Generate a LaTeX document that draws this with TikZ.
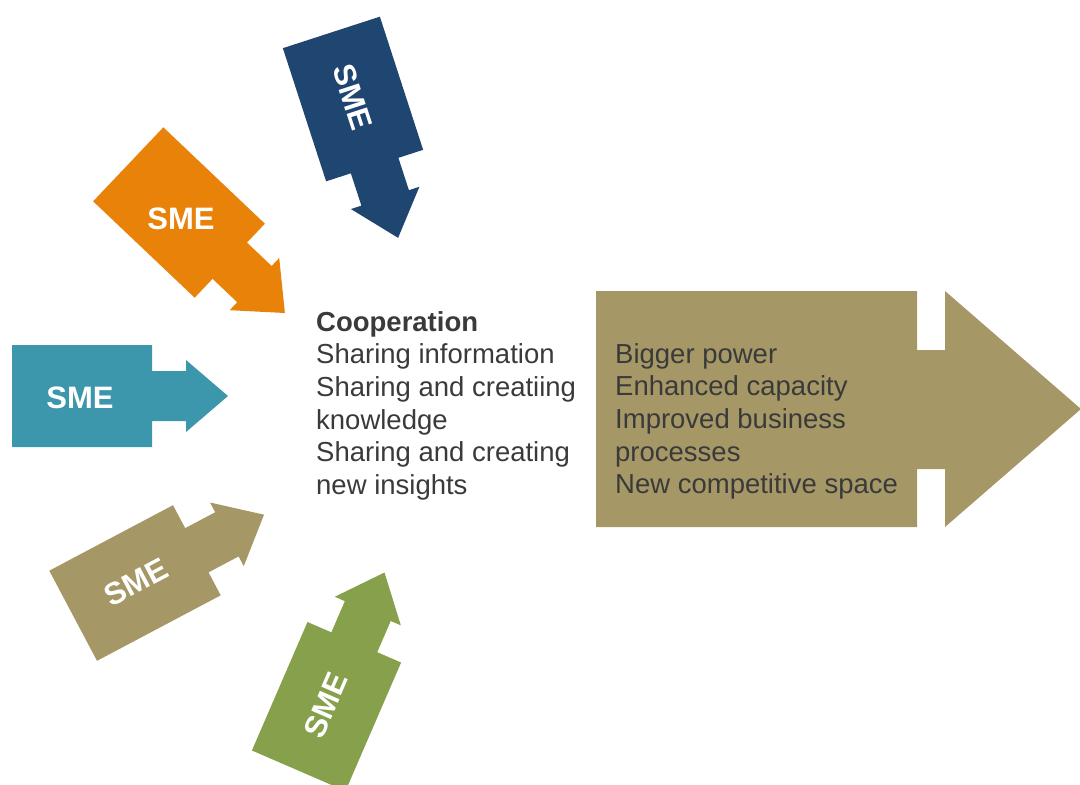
\documentclass[tikz,border=0pt]{standalone}
\usepackage{fontspec}
\setmainfont{Liberation Sans}
\usetikzlibrary{positioning}

\definecolor{smenavy}{RGB}{30,70,112}
\definecolor{smeorange}{RGB}{232,130,8}
\definecolor{smeteal}{RGB}{60,150,172}
\definecolor{smekhaki}{RGB}{165,152,102}
\definecolor{smegreen}{RGB}{134,160,75}
\definecolor{bodytext}{RGB}{58,58,58}

\begin{document}
\begin{tikzpicture}[x=1pt, y=1pt]
			\tikzstyle{sme label}=[text=white, inner sep=0pt, font=\fontsize{31}{31}\selectfont\bfseries]
			\tikzstyle{list text}=[text=bodytext, inner sep=0pt, align=left, anchor=north west, font=\fontsize{27.5}{32.7}\selectfont]
			% box with a short neck and a head, pointing along +x
			\tikzset{sme arrow/.pic={
				\fill (-70,-51) -- (70,-51) -- (70,-25) -- (104,-25) -- (104,-36) -- (146,0)
				      -- (104,36) -- (104,25) -- (70,25) -- (70,51) -- (-70,51) -- cycle;
			}}
			
			\useasboundingbox (0,0) rectangle (1080,-785);
			\clip (0,0) rectangle (1080,-785);
			
			% Five SME arrows pointing at the middle
			\pic[fill=smenavy, rotate=-72]     (navy)   at (353,-99)    {sme arrow};
			\pic[fill=smeorange, rotate=-43.5] (orange) at (179,-212.5) {sme arrow};
			\pic[fill=smeteal]                 (teal)   at (82,-396)    {sme arrow};
			\pic[fill=smekhaki, rotate=27.9]   (khaki)  at (135,-583)   {sme arrow};
			\pic[fill=smegreen, rotate=66.6]   (green)  at (326.5,-706.5) {sme arrow};
			
			\node[sme label, rotate=-72]  (sme1) at (353,-97)   {SME};
			\node[sme label]              (sme2) at (181,-219)  {SME};
			\node[sme label]              (sme3) at (80,-398)   {SME};
			\node[sme label, rotate=27.9] (sme4) at (136,-582)  {SME};
			\node[sme label, rotate=66.6] (sme5) at (326,-705)  {SME};
			
			% Big result arrow
			\fill[smekhaki] (596,-291) -- (917,-291) -- (917,-350) -- (945,-350) -- (945,-291)
			      -- (1081,-409) -- (945,-527) -- (945,-469) -- (917,-469) -- (917,-527)
			      -- (596,-527) -- cycle;
			
			% Texts
			\node[list text] (coop) at (316,-311)
			      {\textbf{Cooperation}\\Sharing information\\Sharing and creatiing\\knowledge\\Sharing and creating\\new insights};
			\node[list text] (gain) at (615,-343)
			      {Bigger power\\Enhanced capacity\\Improved business\\processes\\New competitive space};
		\end{tikzpicture}
\end{document}
